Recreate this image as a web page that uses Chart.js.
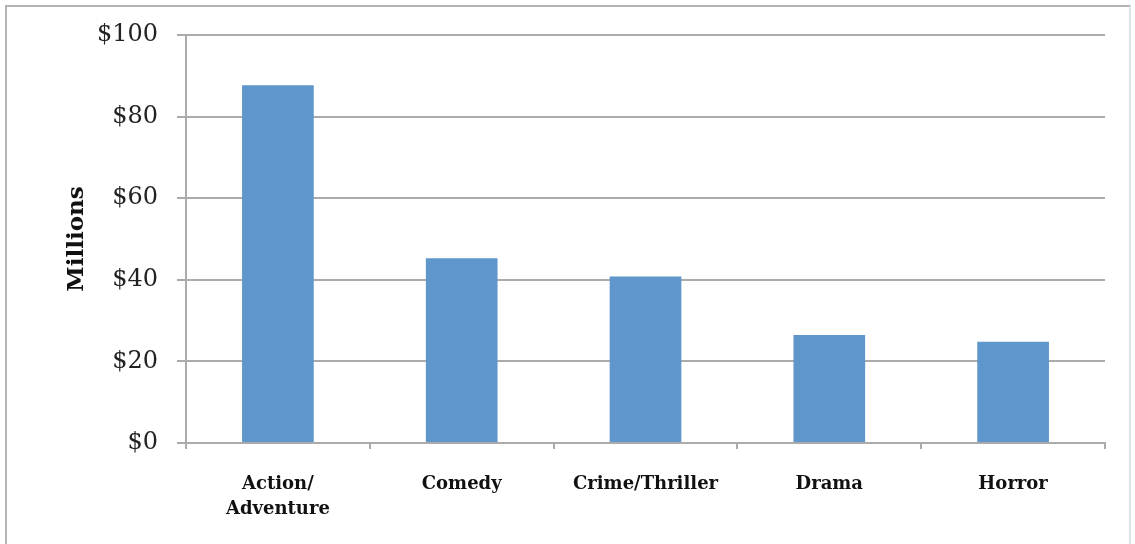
<!DOCTYPE html>
<html>
<head>
<meta charset="utf-8">
<script src="https://cdn.jsdelivr.net/npm/chart.js@4/dist/chart.umd.min.js"></script>
<style>
  html, body { margin: 0; padding: 0; background: #ffffff; }
  #wrap { position: relative; width: 1135px; height: 544px; overflow: hidden; }
  #frame {
    position: absolute; left: 5px; top: 5px; width: 1126px; height: 600px;
    border: 2px solid #b4b4b4; border-right-color: #e4e4e4; box-sizing: border-box;
  }
  canvas { position: absolute; left: 0; top: 0; }
</style>
</head>
<body>
<div id="wrap">
  <div id="frame"></div>
  <canvas id="chart" width="1135" height="544"></canvas>
</div>
<script>
// Average box office gross by genre
const genres = [['Action/', 'Adventure'], 'Comedy', 'Crime/Thriller', 'Drama', 'Horror'];
const grossMillions = [87.7, 45.3, 40.8, 26.5, 24.8];
const yTickValues = [0, 20, 40, 60, 80, 100];
const yAxisTitle = 'Millions';

const gridGray = '#ababab';
const barBlue = '#5f96cb';

new Chart(document.getElementById('chart'), {
  type: 'bar',
  data: {
    labels: genres,
    datasets: [{
      data: grossMillions,
      backgroundColor: barBlue,
      borderWidth: 0,
      barPercentage: 0.39,
      categoryPercentage: 1.0
    }]
  },
  options: {
    responsive: false,
    animation: false,
    devicePixelRatio: 1,
    layout: { padding: { left: 0, right: 30, top: 35, bottom: 0 } },
    plugins: { legend: { display: false }, tooltip: { enabled: false } },
    scales: {
      x: {
        offset: true,
        grid: {
          offset: true,
          drawOnChartArea: false,
          drawTicks: true,
          tickLength: 6,
          color: gridGray,
          lineWidth: 2
        },
        border: { display: true, color: gridGray, width: 2 },
        ticks: {
          color: '#111111',
          font: { family: '"DejaVu Serif"', size: 18, weight: 'bold', lineHeight: 1.4 },
          padding: 23,
          maxRotation: 0,
          minRotation: 0,
          autoSkip: false
        },
        afterFit: (scale) => { scale.height = 101; }
      },
      y: {
        min: 0,
        max: 100,
        afterBuildTicks: (scale) => { scale.ticks = yTickValues.map(v => ({ value: v })); },
        grid: {
          color: gridGray,
          lineWidth: 2,
          drawTicks: true,
          tickLength: 9
        },
        border: { display: true, color: gridGray, width: 2 },
        ticks: {
          color: '#222222',
          font: { family: '"DejaVu Serif"', size: 24 },
          padding: 19,
          callback: (v) => '$' + v
        },
        title: {
          display: true,
          text: yAxisTitle,
          color: '#111111',
          font: { family: '"DejaVu Serif"', size: 23, weight: 'bold', lineHeight: 1.2 },
          padding: { top: 63, bottom: 0 }
        },
        afterFit: (scale) => { scale.width = 186; }
      }
    }
  }
});
</script>
</body>
</html>
